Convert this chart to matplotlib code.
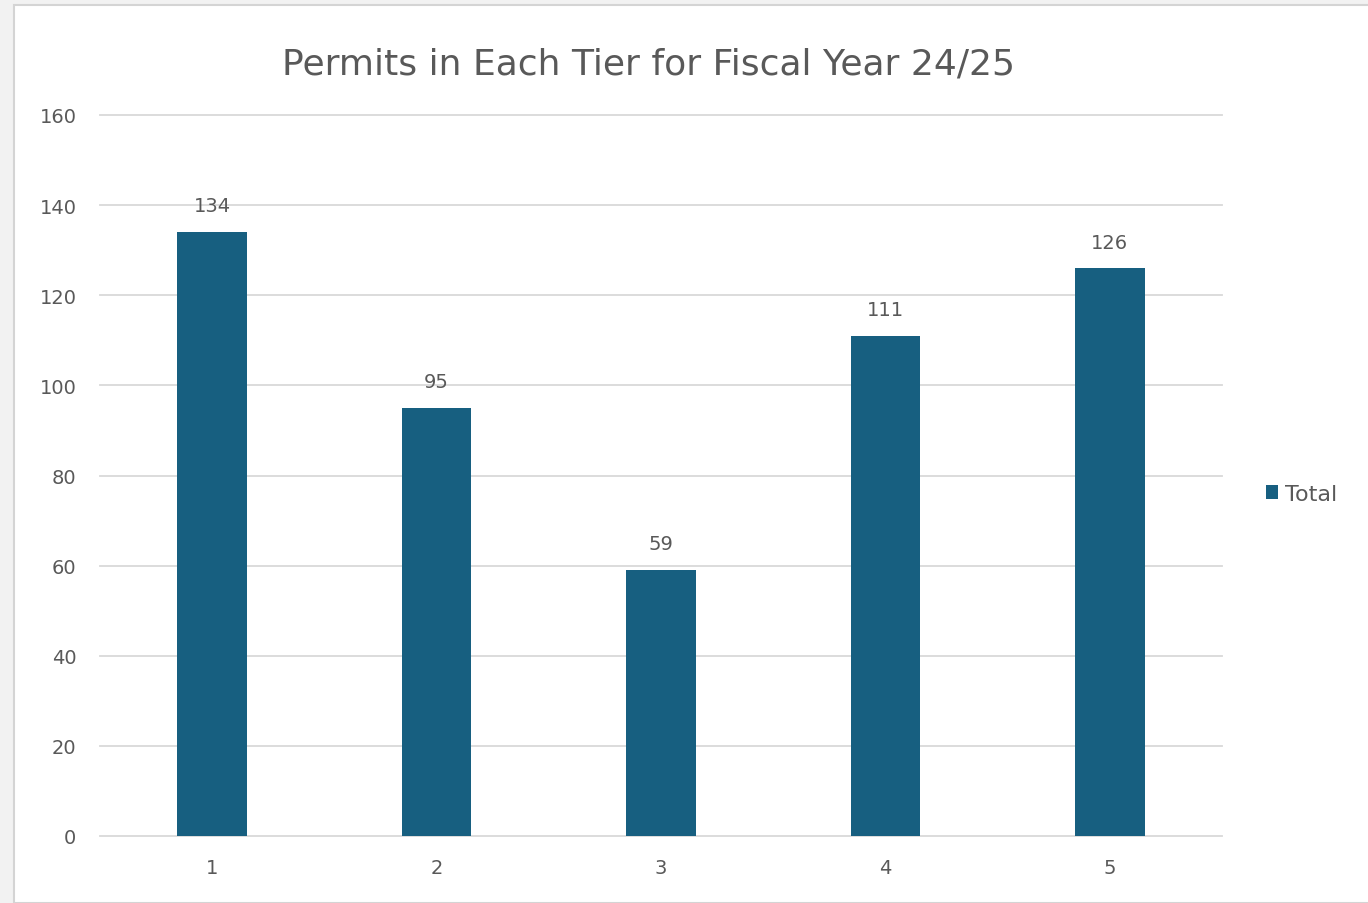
import matplotlib.pyplot as plt
from matplotlib.patches import Rectangle

tiers = ["1", "2", "3", "4", "5"]
totals = [134, 95, 59, 111, 126]
yticks = [0, 20, 40, 60, 80, 100, 120, 140, 160]

bar_color = "#175f80"
text_color = "#595959"
grid_color = "#d9d9d9"

W, H = 1368, 904
fig = plt.figure(figsize=(W / 100, H / 100), dpi=100)
fig.patch.set_facecolor("#f2f2f2")
# white chart area with thin grey border
fig.patches.append(Rectangle((14 / W, 0), 1, 1 - 6 / H, transform=fig.transFigure,
                             facecolor="white", edgecolor="#d4d4d4", lw=1.5, zorder=-5))

ax = fig.add_axes([100 / W, 1 - 837 / H, 1122 / W, (837 - 116) / H])
ax.set_facecolor("none")
x = range(len(tiers))
bars = ax.bar(x, totals, width=0.31, color=bar_color, label="Total", zorder=3)
ax.bar_label(bars, padding=12, fontsize=14, color=text_color)

ax.set_xlim(-0.5, len(tiers) - 0.5)
ax.set_ylim(0, 160)
ax.set_yticks(yticks)
ax.set_xticks(list(x))
ax.set_xticklabels(tiers)
ax.grid(axis="y", color=grid_color, lw=1.3, zorder=0)
ax.set_axisbelow(True)
for gl in ax.get_ygridlines():
    gl.set_clip_on(False)
for s in ax.spines.values():
    s.set_visible(False)
ax.tick_params(length=0, labelsize=14, labelcolor=text_color)
ax.tick_params(axis="y", pad=17)
ax.tick_params(axis="x", pad=16)

fig.text(648 / W, 1 - 64 / H, "Permits in Each Tier for Fiscal Year 24/25",
         ha="center", va="center", fontsize=26, color=text_color)

fig.legend(loc="center left", bbox_to_anchor=(1266 / W, 1 - 495 / H), frameon=False,
           fontsize=16, labelcolor=text_color, handlelength=0.55, handleheight=0.55,
           handletextpad=0.3, borderaxespad=0, borderpad=0)

fig.savefig("out.png", dpi=100, facecolor=fig.get_facecolor())
